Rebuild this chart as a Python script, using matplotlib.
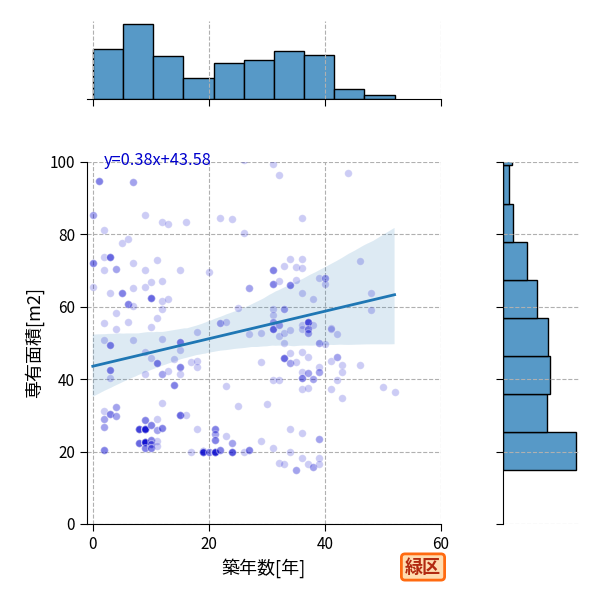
import numpy as np
import matplotlib
matplotlib.use("Agg")
import matplotlib.pyplot as plt
import seaborn as sns

plt.rcParams['font.family'] = ['Noto Sans CJK JP', 'DejaVu Sans']

# ---- data: building age [years], floor area [m2], number of identical listings ----
age = [0, 0, 0, 1, 2, 2, 2, 2, 2, 2, 2, 2, 2, 3, 3, 3, 3, 3, 3, 4, 4, 4, 4, 4, 5, 5,
       6, 6, 6, 7, 7, 7, 7, 7, 8, 8, 9, 9, 9, 9, 9, 9, 9, 9, 9, 10, 10, 10, 10, 10, 10, 10, 10,
       11, 11, 11, 11, 11, 11, 11, 12, 12, 12, 12, 12, 12, 12, 12, 13, 13, 13, 14, 14,
       15, 15, 15, 15, 15, 15, 16, 16, 17, 17, 18, 18, 18, 18, 19, 19, 20, 20,
       21, 21, 21, 21, 22, 22, 22, 23, 23, 23, 24, 24, 24, 25, 25,
       26, 26, 27, 27, 27, 29, 29, 29, 30, 31, 31, 31, 31, 31, 31, 31, 31, 31,
       32, 32, 32, 32, 32, 32, 33, 33, 33, 33, 33, 33, 34, 34, 34, 34, 34, 34, 34,
       35, 35, 35, 35, 36, 36, 36, 36, 36, 36, 36, 36, 36, 36, 36, 36,
       37, 37, 37, 37, 37, 37, 37, 38, 38, 38, 38, 39, 39, 39, 39, 39, 39, 39,
       40, 40, 40, 41, 41, 41, 41, 42, 42, 42, 43, 43, 43, 44, 46, 46, 48, 48, 50, 52,
       7, 8, 10, 12, 26, 27, 28, 29, 30, 31,
       26, 28, 29, 30, 33, 35, 37, 38,
       3, 14, 41, 41, 40]
area = [85.4, 72, 65.6, 94.8, 81.2, 73.8, 70.2, 55.5, 50.8, 31.3, 29, 26.9, 20.4,
        73.7, 63.7, 49.4, 42.5, 40.2, 30.3, 70.4, 58.2, 53.9, 32.2, 29.9, 77.5, 63.7,
        78.7, 60.7, 55.8, 94.4, 72, 65.3, 60.3, 50.8, 26.2, 22.3,
        85.4, 70.2, 65.6, 47.4, 41.4, 28.7, 26.2, 22.6, 21.1,
        66.9, 62.5, 54.3, 45.8, 27.3, 23.2, 22, 20.9,
        72.9, 56.8, 44.4, 29, 26, 23, 21.5, 83.3, 67.1, 61.6, 59.3, 51.1, 41.4, 33.5, 26.4,
        82.9, 62.2, 42.4, 45.5, 38.4,
        70.2, 50.2, 48.1, 43.5, 41.4, 30.1, 83.3, 30.1, 44.7, 19.8, 53, 45.1, 43.5, 26.2,
        20.2, 19.8, 69.5, 19.8,
        26.2, 24.8, 23.2, 19.8, 84.4, 55.5, 20.4, 55.9, 38.2, 24.3, 84.2, 22.3, 19.8, 59.8, 32.6,
        80.4, 19.8, 65.3, 52.5, 20.4, 52.7, 44.7, 23, 33.1,
        99.4, 70.2, 66.2, 59.3, 57.7, 55.9, 53.9, 39.8, 21.1,
        96.4, 67.1, 55, 51.9, 39.8, 16.9, 71.4, 59.4, 52.7, 50.1, 45.8, 16.5,
        73.1, 66.1, 53.6, 47.2, 44.4, 26.2, 19.8,
        70.9, 67.4, 44.7, 14.8, 84.4, 73.2, 70.6, 63.7, 55, 54, 47.6, 41.9, 40.4, 37.3, 25.1, 18.1,
        55.9, 54, 52.7, 46.2, 41.6, 37.5, 16.5, 62.2, 55, 40, 15.8,
        67.9, 49.9, 43.5, 41.9, 23.4, 18.3, 16.5,
        67.9, 66.2, 49.6, 54.2, 54, 45, 37.3, 52.4, 46, 39.8, 43.9, 41.9, 34.7, 96.9, 72.7, 43.9,
        63.7, 59.1, 37.8, 36.4,
        103, 106, 101, 104, 100.5, 105, 102, 107, 103, 108,
        112, 115, 111, 118, 113, 116, 110, 114,
        389, 306.6, 410, 390, 400]
listings = [2, 3, 1, 3, 1, 1, 1, 1, 1, 1, 2, 2, 3, 4, 1, 3, 3, 1, 3, 2, 1, 1, 2, 2, 1, 3,
            1, 3, 1, 2, 1, 1, 1, 1, 6, 4, 1, 1, 1, 1, 1, 3, 10, 11, 3, 1, 4, 1, 1, 3, 3, 3, 3,
            1, 1, 3, 1, 2, 1, 1, 1, 1, 1, 1, 1, 2, 1, 3, 1, 1, 1, 1, 3,
            1, 3, 1, 3, 1, 4, 1, 1, 1, 1, 1, 1, 1, 1, 3, 6, 1, 3,
            3, 2, 3, 9, 1, 2, 3, 1, 1, 1, 1, 2, 5, 1, 1,
            1, 1, 2, 1, 3, 1, 1, 1, 1, 1, 3, 3, 1, 1, 2, 4, 1, 1,
            1, 1, 2, 1, 1, 1, 1, 2, 1, 1, 4, 1, 1, 3, 1, 1, 2, 1, 1,
            1, 1, 1, 2, 1, 1, 1, 1, 1, 1, 1, 1, 3, 1, 1, 1,
            5, 3, 2, 1, 2, 1, 1, 1, 1, 2, 2, 1, 2, 1, 2, 2, 1, 1,
            2, 1, 1, 1, 1, 1, 1, 1, 2, 1, 1, 1, 1, 1, 1, 1, 1, 1, 1, 1,
            1, 1, 1, 1, 1, 1, 1, 1, 1, 1,
            1, 1, 1, 1, 1, 1, 1, 1,
            1, 1, 1, 1, 1]

x_ticks = [0, 20, 40, 60]
y_ticks = [0, 20, 40, 60, 80, 100]
eq_label = 'y=0.38x+43.58'
ward = '緑区'

xs = np.repeat(np.array(age, float), listings)
ys = np.repeat(np.array(area, float), listings)

fig = plt.figure(figsize=(6, 6), dpi=100)
W = H = 600.0
ax = fig.add_axes([87 / W, 76 / H, 354 / W, 362 / H])
ax_top = fig.add_axes([87 / W, (H - 99.3) / H, 354 / W, 78.75 / H], sharex=ax)
ax_r = fig.add_axes([503.3 / W, 76 / H, 76.65 / H, 362 / H], sharey=ax)

grid_kw = dict(color='#b0b0b0', linestyle='--', linewidth=0.8)

# scatter + regression
ax.scatter(xs, ys, s=30, color='mediumblue', alpha=0.2, edgecolors='white',
           linewidths=0.8, zorder=2)
sns.regplot(x=xs, y=ys, ax=ax, scatter=False, color='#1f77b4', seed=0,
            line_kws=dict(linewidth=2))
ax.set_xticks(x_ticks)
ax.set_yticks(y_ticks)
ax.grid(True, **grid_kw)
ax.set_axisbelow(True)
for s in ['top', 'right']:
    ax.spines[s].set_visible(False)
ax.tick_params(labelsize=11, length=5)
ax.set_xlabel('築年数[年]', fontsize=13)
ax.set_ylabel('専有面積[m2]', fontsize=13)
ax.text(0.048, 1.005, eq_label, transform=ax.transAxes, color='mediumblue',
        fontsize=11.8, va='center', ha='left')

# marginal histograms
bar_kw = dict(color='#5799c7', edgecolor='black', linewidth=1)
xb = np.linspace(xs.min(), xs.max(), 11)
ax_top.hist(xs, bins=xb, **bar_kw)
ywidth = 10.53
nyb = int(np.ceil((ys.max() - ys.min()) / ywidth))
yb = ys.min() + ywidth * np.arange(nyb + 1)
ax_r.hist(ys, bins=yb, orientation='horizontal', **bar_kw)

ax_top.grid(True, axis='x', **grid_kw)
ax_top.tick_params(labelbottom=False, labelleft=False, left=False, length=5)
for s in ['top', 'right', 'left']:
    ax_top.spines[s].set_visible(False)
ax_r.grid(True, axis='y', **grid_kw)
ax_r.tick_params(labelleft=False, labelbottom=False, bottom=False, length=5)
for s in ['top', 'right', 'bottom']:
    ax_r.spines[s].set_visible(False)
ax.set_xlim(-1, 60)
ax.set_ylim(0, 100)

fig.text(0.705, 0.055, ward, fontsize=13, color='#b22a10', fontweight='bold',
         ha='center', va='center',
         bbox=dict(boxstyle='round,pad=0.2', fc='#ffdcb0', ec='#ff6a10', lw=2))

fig.savefig('out.png', dpi=100)
